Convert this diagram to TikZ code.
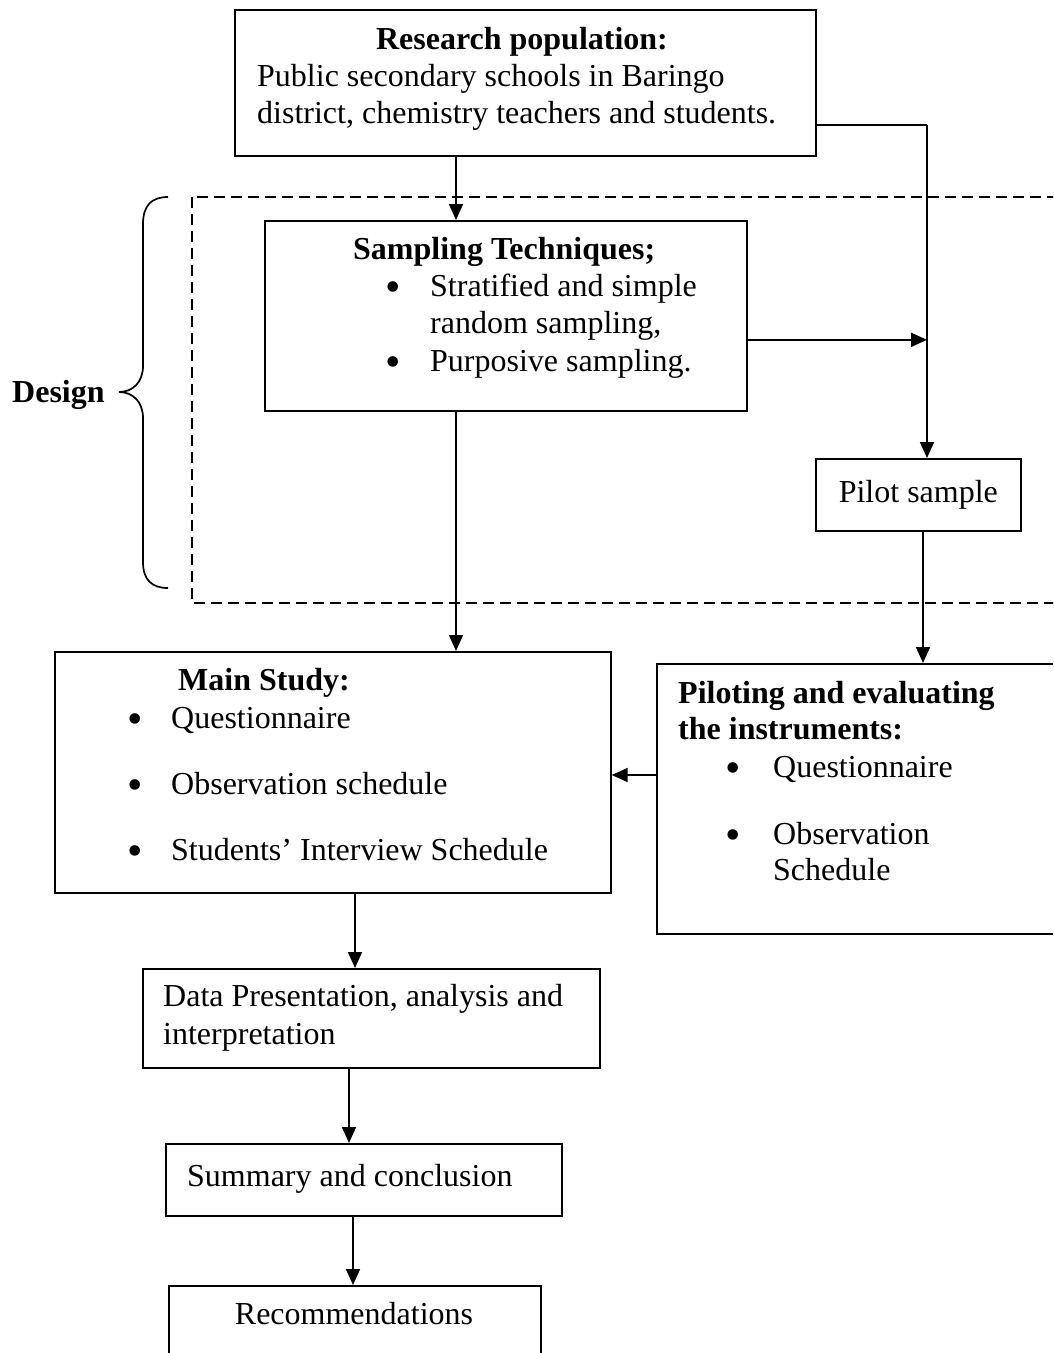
\documentclass[tikz,border=0pt]{standalone}
\usepackage{fontspec}
\setmainfont{Liberation Serif}
\usetikzlibrary{arrows.meta,calc}

\begin{document}
\begin{tikzpicture}[x=1pt,y=-1pt,
    every node/.style={inner sep=0pt,font=\fontsize{32}{37}\selectfont},
    box/.style={draw,line width=1.7pt,anchor=north west},
    line/.style={anchor=base west},
    head/.style={anchor=base west,font=\fontsize{32}{37}\selectfont\bfseries},
    dot/.style={anchor=base,yshift=-5pt,font=\fontsize{44}{44}\selectfont},
    conn/.style={line width=1.7pt},
    arr/.style={conn,-{Triangle[length=16pt,width=14pt]}}]

  \useasboundingbox (0,0) rectangle (1053,1353);
  \clip (0,0) rectangle (1053,1353);

  \draw[line width=1.7pt,dash pattern=on 11pt off 6pt] (192,197) rectangle (1120,603);
  \draw[conn] (168,197) .. controls (152,197) and (143,205) .. (143,224) -- (143,366)
    .. controls (143,382) and (133,392) .. (119,392)
    .. controls (133,392) and (143,402) .. (143,418) -- (143,562)
    .. controls (143,580) and (152,588) .. (168,588);
  \node[head] (DESIGN) at (12,402) {Design};

  \node[box,minimum width=581pt,minimum height=146pt] (POP) at (234,9) {};
  \node[box,minimum width=482pt,minimum height=190pt] (SAMP) at (264,220) {};
  \node[box,minimum width=205pt,minimum height=72pt] (PSAMPLE) at (815,458) {Pilot sample};
  \node[box,minimum width=556pt,minimum height=241pt] (MAIN) at (54,651) {};
  \node[box,minimum width=450pt,minimum height=270pt] (PIL) at (656,663) {};
  \node[box,minimum width=457pt,minimum height=99pt] (DATA) at (142,968) {};
  \node[box,minimum width=396pt,minimum height=72pt] (SUM) at (165,1143) {};
  \node[box,minimum width=372pt,minimum height=100pt] (REC) at (168,1285) {};

  \node[head,anchor=base] (POPT) at (522,49) {Research population:};
  \node[line] (POP1) at (257,86) {Public secondary schools in Baringo};
  \node[line] (POP2) at (257,123) {district, chemistry teachers and students.};

  \node[head] (SAMPT) at (353,259) {Sampling Techniques;};
  \node[line] (SAMP1) at (430,296) {Stratified and simple};
  \node[line] (SAMP2) at (430,333) {random sampling,};
  \node[line] (SAMP3) at (430,371) {Purposive sampling.};
  \foreach \y in {296,371} \node[dot] (SAMPB\y) at (393,\y) {\textbullet};

  \node[head] (MAINT) at (178,690) {Main Study:};
  \node[line] (MAIN1) at (171,728) {Questionnaire};
  \node[line] (MAIN2) at (171,794) {Observation schedule};
  \node[line] (MAIN3) at (171,860) {Students’ Interview Schedule};
  \foreach \y in {728,794,860} \node[dot] (MAINB\y) at (135,\y) {\textbullet};

  \node[head] (PILT1) at (678,703) {Piloting and evaluating};
  \node[head] (PILT2) at (678,739) {the instruments:};
  \node[line] (PIL1) at (773,777) {Questionnaire};
  \node[line] (PIL2) at (773,844) {Observation};
  \node[line] (PIL3) at (773,880) {Schedule};
  \foreach \y in {777,844} \node[dot] (PILB\y) at (733,\y) {\textbullet};

  \node[line] (DATA1) at (163,1006) {Data Presentation, analysis and};
  \node[line] (DATA2) at (163,1044) {interpretation};
  \node[line] (SUM1) at (187,1186) {Summary and conclusion};
  \node[anchor=base] (REC1) at (354,1324) {Recommendations};

  \coordinate (SPINE) at (456,0);
  \coordinate (BEND) at (927,125);
  \coordinate (DROP) at (923,0);
  \coordinate (BACK) at (0,775);
  \coordinate (SOUT) at ($(SAMP.east)+(0,24)$);
  \draw[conn] (POP.east |- BEND) -- (BEND);
  \draw[arr] (BEND) -- (BEND |- PSAMPLE.north);
  \draw[arr] (SOUT) -- (SOUT -| BEND);
  \draw[arr] (POP.south -| SPINE) -- (SAMP.north -| SPINE);
  \draw[arr] (SAMP.south -| SPINE) -- (MAIN.north -| SPINE);
  \draw[arr] (PSAMPLE.south -| DROP) -- (PIL.north -| DROP);
  \draw[arr] (PIL.west |- BACK) -- (MAIN.east |- BACK);
  \foreach \a/\b/\x in {MAIN/DATA/355,DATA/SUM/349,SUM/REC/353} {
    \coordinate (COL) at (\x,0);
    \draw[arr] (\a.south -| COL) -- (\b.north -| COL);
  }
\end{tikzpicture}
\end{document}
